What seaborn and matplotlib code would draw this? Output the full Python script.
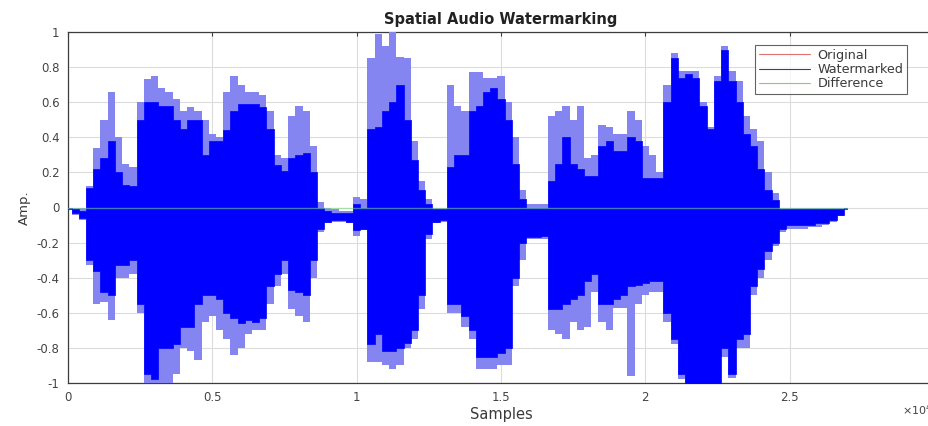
import numpy as np
import pandas as pd
import matplotlib
matplotlib.use("Agg")
import matplotlib.pyplot as plt
from matplotlib.lines import Line2D
from matplotlib.ticker import FuncFormatter
import seaborn as sns

# Waveform envelope, one column every 250 samples (0 .. 27000)
sample_step = 250
peak_hi = [0.00, -0.00, 0.00, 0.12, 0.34, 0.50, 0.66, 0.40, 0.25, 0.23,
           0.60, 0.73, 0.75, 0.68, 0.66, 0.62, 0.55, 0.57, 0.55, 0.50,
           0.42, 0.40, 0.66, 0.75, 0.70, 0.66, 0.66, 0.64, 0.55, 0.30,
           0.28, 0.52, 0.58, 0.55, 0.35, 0.03, 0.00, -0.01, -0.02, -0.02,
           0.06, 0.05, 0.85, 0.99, 0.92, 1.00, 0.86, 0.85, 0.38, 0.15,
           0.05, 0.00, 0.00, 0.70, 0.58, 0.55, 0.77, 0.77, 0.74, 0.74,
           0.75, 0.60, 0.40, 0.10, 0.02, 0.02, 0.02, 0.52, 0.55, 0.58,
           0.50, 0.58, 0.28, 0.30, 0.47, 0.46, 0.42, 0.42, 0.55, 0.50,
           0.35, 0.30, 0.20, 0.70, 0.88, 0.78, 0.78, 0.78, 0.60, 0.46,
           0.75, 0.92, 0.78, 0.72, 0.52, 0.45, 0.38, 0.20, 0.08, 0.00,
           -0.00, -0.00, -0.00, -0.00, -0.00, -0.00, -0.00, 0.00, 0.00]
core_hi = [0.00, -0.01, -0.02, 0.11, 0.22, 0.28, 0.38, 0.20, 0.13, 0.12,
           0.50, 0.60, 0.60, 0.58, 0.58, 0.50, 0.45, 0.50, 0.50, 0.30,
           0.38, 0.38, 0.44, 0.55, 0.59, 0.59, 0.59, 0.57, 0.45, 0.24,
           0.21, 0.28, 0.30, 0.31, 0.20, 0.00, -0.02, -0.03, -0.03, -0.03,
           0.02, 0.00, 0.45, 0.46, 0.55, 0.60, 0.70, 0.50, 0.27, 0.10,
           0.02, -0.01, -0.01, 0.23, 0.30, 0.30, 0.55, 0.58, 0.66, 0.68,
           0.62, 0.50, 0.25, 0.05, 0.00, 0.00, 0.00, 0.15, 0.25, 0.40,
           0.25, 0.22, 0.18, 0.18, 0.35, 0.38, 0.32, 0.32, 0.40, 0.38,
           0.17, 0.17, 0.17, 0.60, 0.85, 0.74, 0.76, 0.74, 0.58, 0.45,
           0.72, 0.90, 0.72, 0.60, 0.42, 0.35, 0.22, 0.10, 0.04, -0.01,
           -0.01, -0.01, -0.01, -0.01, -0.01, -0.01, -0.01, -0.01, 0.00]
core_lo = [-0.01, -0.03, -0.06, -0.30, -0.36, -0.48, -0.50, -0.33, -0.33, -0.30,
           -0.55, -0.95, -0.98, -0.80, -0.80, -0.78, -0.68, -0.68, -0.55, -0.50,
           -0.50, -0.52, -0.60, -0.63, -0.66, -0.64, -0.65, -0.63, -0.45, -0.38,
           -0.30, -0.47, -0.48, -0.50, -0.30, -0.12, -0.08, -0.07, -0.07, -0.08,
           -0.13, -0.12, -0.78, -0.72, -0.82, -0.82, -0.80, -0.77, -0.70, -0.50,
           -0.15, -0.08, -0.07, -0.55, -0.55, -0.62, -0.70, -0.85, -0.85, -0.85,
           -0.83, -0.80, -0.40, -0.20, -0.17, -0.17, -0.16, -0.58, -0.58, -0.55,
           -0.52, -0.50, -0.42, -0.38, -0.55, -0.55, -0.52, -0.50, -0.45, -0.44,
           -0.43, -0.42, -0.42, -0.60, -0.75, -0.95, -1.00, -1.00, -1.00, -1.00,
           -1.00, -0.80, -0.95, -0.75, -0.72, -0.45, -0.35, -0.25, -0.20, -0.12,
           -0.10, -0.10, -0.10, -0.10, -0.09, -0.09, -0.07, -0.04, -0.01]
peak_lo = [-0.01, -0.04, -0.07, -0.33, -0.55, -0.54, -0.64, -0.40, -0.40, -0.38,
           -0.60, -1.00, -1.00, -1.00, -1.00, -0.95, -0.80, -0.82, -0.87, -0.65,
           -0.62, -0.70, -0.75, -0.84, -0.80, -0.72, -0.70, -0.70, -0.55, -0.45,
           -0.38, -0.58, -0.62, -0.65, -0.40, -0.14, -0.09, -0.08, -0.08, -0.09,
           -0.16, -0.13, -0.88, -0.88, -0.90, -0.92, -0.90, -0.80, -0.75, -0.58,
           -0.18, -0.09, -0.08, -0.60, -0.60, -0.68, -0.75, -0.92, -0.92, -0.92,
           -0.90, -0.90, -0.45, -0.30, -0.18, -0.18, -0.18, -0.70, -0.72, -0.75,
           -0.65, -0.70, -0.68, -0.48, -0.65, -0.70, -0.57, -0.57, -0.96, -0.55,
           -0.50, -0.48, -0.48, -0.65, -0.78, -0.98, -1.00, -1.00, -1.00, -1.00,
           -1.00, -0.85, -0.97, -0.80, -0.80, -0.50, -0.40, -0.30, -0.22, -0.14,
           -0.12, -0.12, -0.12, -0.11, -0.11, -0.10, -0.08, -0.05, -0.01]

# Difference between original and watermarked signal (flat)
diff_samples = [0, 27000]
diff_values = [0.0, 0.0]

x_ticks = [0, 5000, 10000, 15000, 20000, 25000, 30000]
y_ticks = [-1, -0.8, -0.6, -0.4, -0.2, 0, 0.2, 0.4, 0.6, 0.8, 1]

samples = np.arange(len(peak_hi)) * sample_step
wave = pd.DataFrame({"Samples": samples, "peak_hi": peak_hi, "core_hi": core_hi,
                     "core_lo": core_lo, "peak_lo": peak_lo})
diff = pd.DataFrame({"Samples": diff_samples, "Amp.": diff_values})

sns.set_style("white")
plt.rcParams["font.family"] = ["DejaVu Sans"]

W, H = 929, 426
fig = plt.figure(figsize=(W / 100, H / 100), dpi=100)
ax = fig.add_axes([68 / W, 1 - 383 / H, (934 - 68) / W, (383 - 32) / H])

light_blue = "#8585f2"
dark_blue = "#0000ff"

# Original signal (hidden beneath the watermarked one)
ax.fill_between(wave["Samples"], wave["core_lo"], wave["core_hi"], step="mid",
                color="#ff0000", lw=0, zorder=2)
# Watermarked signal: outer peaks and dense core
ax.fill_between(wave["Samples"], wave["peak_lo"], wave["peak_hi"], step="mid",
                color=light_blue, lw=0, zorder=3)
ax.fill_between(wave["Samples"], wave["core_lo"], wave["core_hi"], step="mid",
                color=dark_blue, lw=0.5, edgecolor=dark_blue, zorder=4)
sns.lineplot(data=diff, x="Samples", y="Amp.", ax=ax, color="#7ce07c",
             lw=1.0, alpha=0.55, zorder=5)

ax.set_xlim(0, 30000)
ax.set_ylim(-1, 1)
ax.set_xticks(x_ticks)
ax.set_yticks(y_ticks)
ax.xaxis.set_major_formatter(FuncFormatter(lambda v, p: f"{v / 1e4:g}"))
ax.yaxis.set_major_formatter(FuncFormatter(lambda v, p: f"{v:g}"))
ax.grid(True, color="#dcdcdc", lw=0.8)
ax.set_axisbelow(True)
for s in ax.spines.values():
    s.set_color("#3c3c3c")
    s.set_linewidth(0.9)
ax.tick_params(direction="in", length=3, width=0.8, top=True, right=True,
               colors="#3c3c3c", labelsize=8.5, labelcolor="#444444", pad=6)

ax.set_xlabel("Samples", fontsize=10.5, color="#3a3a3a", labelpad=2)
ax.set_ylabel("Amp.", fontsize=9.5, color="#3a3a3a", labelpad=4)
ax.set_title("Spatial Audio Watermarking", fontsize=10.5, fontweight="bold",
             color="#222222", pad=6)
fig.text(902 / W, 1 - 410 / H, r"$\times10^{4}$", fontsize=8, color="#444444",
         va="center", ha="left")

handles = [Line2D([], [], color="#e07070", lw=0.8),
           Line2D([], [], color="#3838a0", lw=0.8),
           Line2D([], [], color="#70d870", lw=0.8)]
leg = ax.legend(handles, ["Original", "Watermarked", "Difference"],
                loc="upper left", bbox_to_anchor=(755 / W, 1 - 45 / H),
                bbox_transform=fig.transFigure, fontsize=9.2, frameon=True,
                fancybox=False, handlelength=4.0, handletextpad=0.6,
                borderpad=0.3, labelspacing=0.1, borderaxespad=0,
                labelcolor="#3a3a3a")
leg.get_frame().set_edgecolor("#3c3c3c")
leg.get_frame().set_linewidth(0.8)
leg.set_zorder(10)

fig.savefig("out.png", dpi=100)
